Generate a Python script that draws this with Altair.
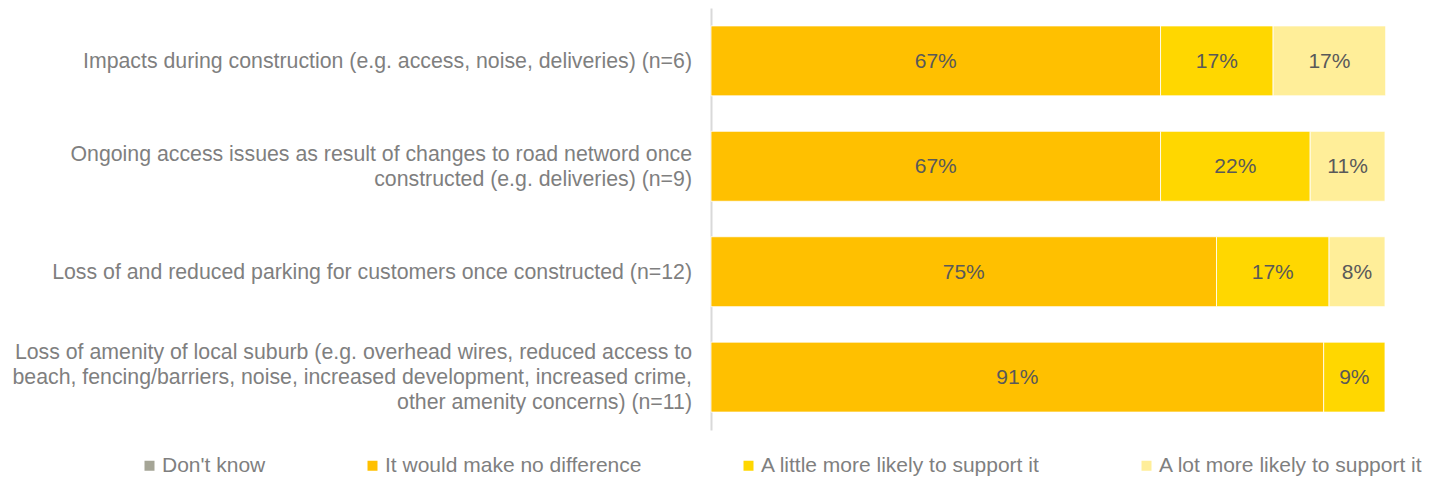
import altair as alt
import pandas as pd

categories = [
    "Impacts during construction (e.g. access, noise, deliveries) (n=6)",
    "Ongoing access issues as result of changes to road netword once|constructed (e.g. deliveries) (n=9)",
    "Loss of and reduced parking for customers once constructed (n=12)",
    "Loss of amenity of local suburb (e.g. overhead wires, reduced access to|beach, fencing/barriers, noise, increased development, increased crime,|other amenity concerns) (n=11)",
]
series = [
    "Don't know",
    "It would make no difference",
    "A little more likely to support it",
    "A lot more likely to support it",
]
colors = ["#A5A596", "#FFC000", "#FFD700", "#FFEE99"]

dont_know = [0, 0, 0, 0]
no_difference = [66.7, 66.7, 75.0, 90.9]
little_more = [16.7, 22.2, 16.7, 9.1]
lot_more = [16.7, 11.1, 8.3, 0]

rows = []
for i, c in enumerate(categories):
    for j, (s, vals) in enumerate(zip(series, [dont_know, no_difference, little_more, lot_more])):
        rows.append({"cat": c, "series": s, "order": j, "value": vals[i]})
df = pd.DataFrame(rows)
cat_df = pd.DataFrame({"cat": categories})

FONT = "Liberation Sans"
FS = 21
LH = 25

base = alt.Chart(df).transform_filter("datum.value > 0").transform_stack(
    stack="value", groupby=["cat"], as_=["x0", "x1"], sort=[alt.SortField("order")]
).transform_calculate(mid="(datum.x0 + datum.x1) / 2", label="format(datum.value, '.0f') + '%'")

y_enc = alt.Y(
    "cat:N",
    sort=categories,
    title=None,
    scale=alt.Scale(paddingInner=0.3365, paddingOuter=0.17),
    axis=alt.Axis(
        labels=False,
        ticks=False,
        domainColor="#D9D9D9",
        domainWidth=2,
        minExtent=703,
        maxExtent=703,
    ),
)

bars = base.mark_bar(stroke="white", strokeWidth=0.8).encode(
    y=y_enc,
    x=alt.X("x0:Q", scale=alt.Scale(domain=[0, 100]), axis=None),
    x2="x1:Q",
    color=alt.Color(
        "series:N",
        scale=alt.Scale(domain=series, range=colors),
        legend=alt.Legend(
            title=None,
            orient="none",
            direction="horizontal",
            columns=4,
            legendX=-572,
            legendY=447,
            padding=0,
            symbolType="square",
            symbolSize=100,
            symbolStrokeWidth=0,
            symbolOffset=0,
            labelOffset=2,
            labelFontSize=FS,
            labelFont=FONT,
            labelColor="#7F7F7F",
            labelLimit=0,
            columnPadding=96,
        ),
    ),
)

texts = base.mark_text(fontSize=FS, font=FONT, color="#595959", dy=1).encode(
    y=alt.Y("cat:N", sort=categories),
    x=alt.X("mid:Q"),
    text="label:N",
)

# category labels, multi-line blocks centred vertically on their bar
label_layers = []
for n in [1, 2, 3]:
    label_layers.append(
        alt.Chart(cat_df)
        .transform_calculate(lines="split(datum.cat, '|')", nl="length(split(datum.cat, '|'))")
        .transform_filter(f"datum.nl == {n}")
        .mark_text(
            align="right",
            baseline="middle",
            fontSize=21.3,
            font=FONT,
            color="#7F7F7F",
            lineHeight=LH,
            dy=1 - (n - 1) * LH / 2,
        )
        .encode(
            y=alt.Y("cat:N", sort=categories),
            x=alt.value(-19),
            text="lines:N",
        )
    )

chart = (
    alt.layer(bars, texts, *label_layers)
    .properties(width=674, height=422, padding=0, background="white")
    .configure_view(stroke=None)
)

chart.save("out.html", embed_options={"renderer": "svg", "actions": False})
